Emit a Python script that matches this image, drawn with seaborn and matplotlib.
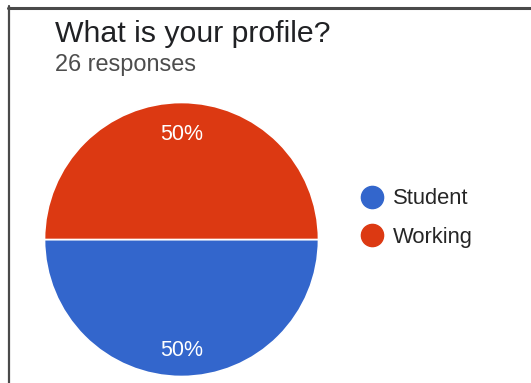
import matplotlib
matplotlib.use("Agg")
import matplotlib.pyplot as plt
from matplotlib.lines import Line2D
from matplotlib.transforms import offset_copy
import seaborn as sns

# Survey data
categories = ["Student", "Working"]
shares = [50, 50]
colors = ["#3366CC", "#DC3912"]
title = "What is your profile?"
subtitle = "26 responses"

sns.set_theme(style="white")
plt.rcParams["font.family"] = ["Liberation Sans", "DejaVu Sans"]

W, H = 531, 383
fig = plt.figure(figsize=(W / 100, H / 100), dpi=100)
fig.patch.set_facecolor("white")

# Pie axes placed in pixel units
cx, cy, r = 181.5, 239.5, 137.0
ax = fig.add_axes([(cx - r) / W, (H - cy - r) / H, 2 * r / W, 2 * r / H])
wedges, texts, autotexts = ax.pie(
    shares,
    colors=colors,
    startangle=180,
    counterclock=True,
    autopct=lambda p: f"{p:.0f}%",
    pctdistance=0.79,
    wedgeprops=dict(edgecolor="white", linewidth=1.2),
    textprops=dict(color="white", fontsize=15.5),
)
# nudge the percentage labels slightly down so the digits sit visually centred
nudge = offset_copy(ax.transData, fig=fig, x=0, y=-3, units="dots")
for t in autotexts:
    t.set_transform(nudge)
ax.set_xlim(-1, 1)
ax.set_ylim(-1, 1)
ax.set_aspect("equal")
ax.axis("off")

# Titles
fig.text(55 / W, 1 - 42 / H, title, fontsize=21.8, color="#202124",
         va="baseline", ha="left")
fig.text(55 / W, 1 - 71 / H, subtitle, fontsize=16.9, color="#4d4d4d",
         va="baseline", ha="left")

# Legend
handles = [Line2D([0], [0], marker="o", linestyle="", markersize=16,
                  markerfacecolor=c, markeredgecolor=c) for c in colors]
fig.legend(handles, categories, loc="center left",
           bbox_to_anchor=(361 / W, 1 - 218 / H), frameon=False,
           fontsize=15.8, handletextpad=0.45, labelspacing=0.78,
           handlelength=1.0, borderpad=0, borderaxespad=0,
           labelcolor="#262626")

# Frame lines on the top and left
fig.add_artist(Line2D([8.5 / W, 8.5 / W], [0, 1 - 6 / H], transform=fig.transFigure,
                      color="#4a4a4a", linewidth=1.6))
fig.add_artist(Line2D([8 / W, 1], [1 - 7.5 / H, 1 - 7.5 / H], transform=fig.transFigure,
                      color="#4a4a4a", linewidth=2.2))

fig.savefig("out.png", dpi=100, facecolor="white")
